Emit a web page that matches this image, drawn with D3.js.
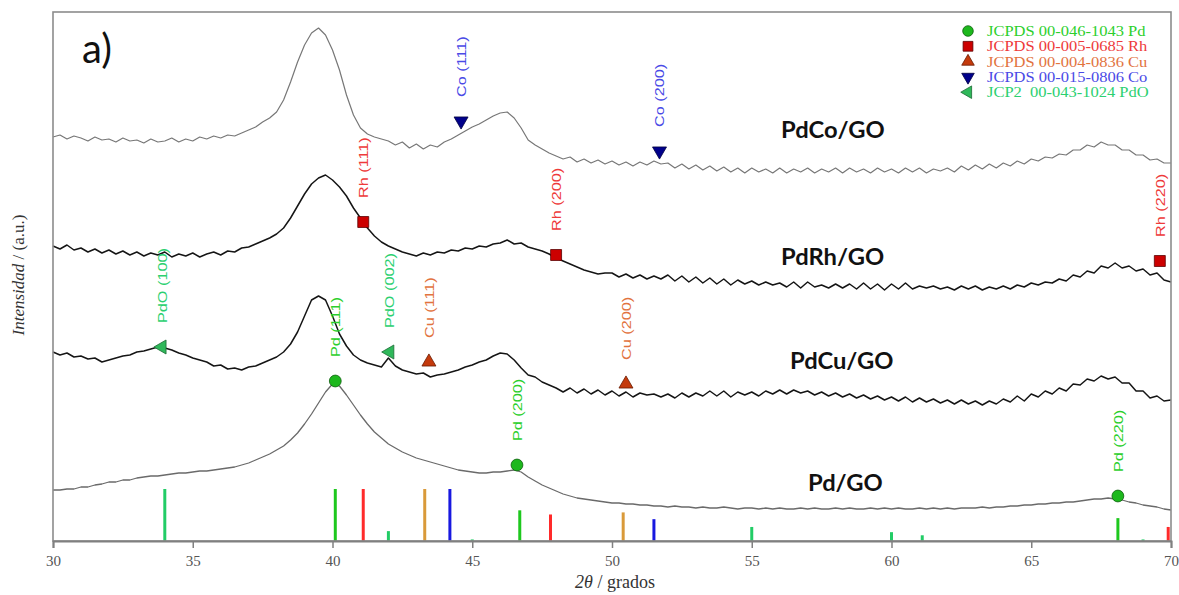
<!DOCTYPE html>
<html>
<head>
<meta charset="utf-8">
<script src="https://cdn.jsdelivr.net/npm/d3@7"></script>
<style>
    body { margin: 0; background: #ffffff; }
    svg { display: block; }
</style>
</head>
<body>
<svg></svg>
<script>
// Scan range (2 theta, degrees), sampled every 0.25
let thetaStart = 30, thetaEnd = 70, thetaStep = 0.25;
let xTicks = [30, 35, 40, 45, 50, 55, 60, 65, 70];

// Stacked patterns (a.u., offsets already included)
let pdCoValues = [
    404, 406, 402, 405, 403, 400, 404, 401,
    402, 399, 403, 400, 401, 398, 402, 399,
    400, 403, 399, 402, 400, 404, 402, 405,
    403, 406, 405, 408, 411, 414, 419, 423,
    429, 441, 459, 479, 496, 508, 513, 506,
    491, 471, 446, 426, 413, 407, 404, 402,
    400, 396, 399, 393, 397, 392, 396, 394,
    399, 402, 406, 410, 414, 417, 421, 425,
    428, 429, 423, 413, 401, 396, 392, 388,
    385, 382, 384, 379, 382, 378, 381, 377,
    380, 376, 379, 375, 379, 376, 380, 377,
    378, 373, 377, 372, 376, 371, 375, 370,
    374, 369, 373, 368, 373, 369, 372, 368,
    373, 368, 372, 369, 373, 368, 372, 369,
    373, 368, 373, 369, 372, 368, 373, 369,
    372, 368, 373, 369, 373, 368, 372, 370,
    373, 369, 375, 371, 376, 372, 377, 373,
    378, 375, 380, 377, 382, 380, 384, 383,
    387, 386, 391, 391, 396, 394, 399, 396,
    396, 391, 391, 386, 386, 381, 382, 378,
    378
];
let pdRhValues = [
    295, 292, 296, 291, 293, 289, 292, 288,
    291, 287, 290, 286, 289, 285, 288, 286,
    289, 284, 287, 285, 288, 284, 287, 289,
    286, 290, 289, 293, 294, 297, 300, 303,
    307, 313, 323, 335, 347, 357, 363, 366,
    361, 354, 345, 333, 323, 313, 305, 299,
    295, 292, 289, 287, 285, 288, 286, 289,
    288, 291, 290, 293, 292, 295, 294, 297,
    298, 301, 297, 298, 294, 292, 290, 287,
    283, 280, 277, 274, 271, 269, 267, 268,
    268, 264, 267, 263, 266, 262, 265, 262,
    266, 260, 265, 259, 264, 258, 263, 257,
    262, 256, 261, 257, 260, 256, 259, 256,
    258, 254, 259, 253, 259, 254, 256, 253,
    257, 253, 257, 252, 258, 252, 257, 251,
    257, 252, 258, 252, 255, 253, 255, 252,
    254, 251, 255, 252, 255, 251, 254, 252,
    255, 252, 256, 254, 258, 256, 259, 258,
    262, 260, 266, 264, 270, 268, 275, 273,
    278, 273, 275, 270, 272, 266, 268, 261,
    259
];
let pdCuValues = [
    189, 186, 188, 184, 185, 182, 183, 179,
    181, 183, 185, 186, 189, 190, 192, 194,
    193, 191, 188, 186, 183, 181, 179, 175,
    176, 172, 173, 171, 174, 175, 178, 181,
    184, 189, 197, 209, 225, 241, 245, 241,
    225, 207, 195, 186, 181, 178, 176, 174,
    183, 175, 171, 169, 167, 168, 164, 166,
    167, 169, 171, 174, 176, 179, 181, 185,
    188, 187, 181, 173, 166, 164, 159, 156,
    153, 149, 153, 148, 152, 147, 151, 146,
    150, 145, 149, 144, 148, 146, 147, 144,
    147, 143, 148, 144, 148, 145, 150, 145,
    150, 144, 149, 146, 149, 145, 150, 147,
    151, 147, 151, 148, 150, 146, 149, 145,
    148, 144, 147, 143, 146, 142, 145, 141,
    144, 140, 144, 139, 143, 139, 142, 138,
    141, 137, 141, 137, 140, 136, 140, 137,
    142, 139, 145, 140, 147, 144, 150, 147,
    153, 150, 157, 156, 162, 160, 165, 162,
    164, 158, 158, 150, 150, 143, 145, 140,
    141
];
let pdValues = [
    51, 51, 52, 52, 54, 54, 56, 57,
    59, 59, 61, 61, 63, 64, 65, 65,
    66, 67, 68, 68, 69, 70, 70, 71,
    72, 73, 74, 76, 78, 81, 84, 87,
    91, 95, 101, 108, 117, 127, 138, 149,
    157, 155, 146, 136, 126, 117, 109, 103,
    97, 93, 89, 86, 83, 81, 79, 77,
    75, 73, 71, 70, 69, 68, 68, 69,
    69, 70, 71, 69, 64, 60, 56, 53,
    50, 47, 45, 43, 42, 41, 40, 39,
    38, 38, 37, 37, 36, 36, 35, 35,
    34, 35, 34, 34, 33, 34, 33, 33,
    34, 33, 32, 33, 33, 32, 33, 32,
    33, 32, 32, 33, 32, 33, 32, 32,
    33, 32, 33, 32, 32, 33, 32, 33,
    32, 33, 32, 32, 33, 32, 33, 32,
    33, 32, 33, 33, 33, 34, 33, 34,
    34, 35, 35, 36, 36, 37, 37, 38,
    38, 39, 39, 40, 41, 42, 42, 43,
    42, 41, 39, 38, 36, 35, 34, 32,
    31
];
let seriesNames = ['PdCo/GO', 'PdRh/GO', 'PdCu/GO', 'Pd/GO'];

// Reference card lines (2 theta, relative intensity %)
let pdCardTheta = [40.1, 46.7, 68.1];
let pdCardInt = [100, 59, 44];
let rhCardTheta = [41.1, 47.8, 69.9];
let rhCardInt = [100, 51, 27];
let cuCardTheta = [43.3, 50.4];
let cuCardInt = [100, 55];
let coCardTheta = [44.2, 51.5];
let coCardInt = [100, 42];
let pdoCardTheta = [34.0, 42.0, 45.0, 55.0, 60.0, 61.1, 69.0];
let pdoCardInt = [100, 19, 3, 27, 17, 11, 3];

// Peak assignments: phase, reflection, 2 theta, height (a.u.)
let peakPhase = ['Co', 'Co', 'Rh', 'Rh', 'Rh', 'PdO', 'PdO', 'Cu', 'Cu', 'Pd', 'Pd', 'Pd'];
let peakHkl = ['(111)', '(200)', '(111)', '(200)', '(220)', '(100)', '(002)', '(111)', '(200)', '(111)', '(200)', '(220)'];
let peakTheta = [44.6, 51.7, 41.1, 48.0, 69.6, 33.9, 42.05, 43.45, 50.5, 40.1, 46.6, 68.1];
let peakHeight = [420, 390, 319, 286, 280, 194, 189, 179, 157, 160, 76, 45];

// Legend
let legendPhase = ['Pd', 'Rh', 'Cu', 'Co', 'PdO'];
let legendText = ['JCPDS 00-046-1043 Pd', 'JCPDS 00-005-0685 Rh', 'JCPDS 00-004-0836 Cu', 'JCPDS 00-015-0806 Co', 'JCP2  00-043-1024 PdO'];

// Styles per phase
let phaseStyle = {
    Pd:  { symbol: d3.symbolCircle,   rot: 0,   size: 110, fill: '#1db81d', stroke: '#0d600d', text: '#2ccf2c', stick: '#1ec81e' },
    Rh:  { symbol: d3.symbolSquare,   rot: 0,   size: 120, fill: '#cc0000', stroke: '#5a0000', text: '#ee3a3a', stick: '#ff2a2a' },
    Cu:  { symbol: d3.symbolTriangle, rot: 0,   size: 85,  fill: '#c43a0c', stroke: '#6a1a00', text: '#e2733e', stick: '#d99a3a' },
    Co:  { symbol: d3.symbolTriangle, rot: 180, size: 85,  fill: '#00008b', stroke: '#000040', text: '#4a4ae6', stick: '#1818e0' },
    PdO: { symbol: d3.symbolTriangle, rot: -90, size: 85,  fill: '#2fb85a', stroke: '#1a6a34', text: '#2bd070', stick: '#22cc66' }
};

// SVG Dimensions Variables
let width = 1179, height = 595;
let plotLeft = 53, plotRight = 1171, plotTop = 12, plotBottom = 541;

let svg = d3.select('svg');
let xScale, yScale, stickScale;

function drawSvg() {
    svg.attr('width', width).attr('height', height);
}

function generateScales() {
    xScale = d3.scaleLinear().domain([thetaStart, thetaEnd]).range([plotLeft, plotRight]);
    yScale = d3.scaleLinear().domain([0, plotBottom - plotTop]).range([plotBottom, plotTop]);
    stickScale = d3.scaleLinear().domain([0, 100]).range([plotBottom, 489]);
}

function drawFrame() {
    svg.append('rect')
        .attr('x', plotLeft).attr('y', plotTop)
        .attr('width', plotRight - plotLeft).attr('height', plotBottom - plotTop)
        .attr('fill', 'none')
        .attr('stroke', '#8c8c8c')
        .attr('stroke-width', 1.6);
}

function drawSticks() {
    let cards = [
        ['PdO', pdoCardTheta, pdoCardInt],
        ['Pd', pdCardTheta, pdCardInt],
        ['Rh', rhCardTheta, rhCardInt],
        ['Cu', cuCardTheta, cuCardInt],
        ['Co', coCardTheta, coCardInt]
    ];
    cards.forEach((c) => {
        svg.append('g')
            .selectAll('line')
            .data(c[1])
            .enter()
            .append('line')
            .attr('x1', (d) => xScale(d))
            .attr('x2', (d) => xScale(d))
            .attr('y1', stickScale(0))
            .attr('y2', (d, i) => stickScale(c[2][i]))
            .attr('stroke', phaseStyle[c[0]].stick)
            .attr('stroke-width', 3);
    });
}

function drawPatterns() {
    let thetas = d3.range(thetaStart, thetaEnd + thetaStep / 2, thetaStep);
    let patterns = [
        [pdCoValues, '#777777', 1.2],
        [pdRhValues, '#151515', 1.5],
        [pdCuValues, '#151515', 1.5],
        [pdValues, '#6a6a6a', 1.3]
    ];
    let line = d3.line()
        .x((d, i) => xScale(thetas[i]))
        .y((d) => yScale(d));
    patterns.forEach((p) => {
        svg.append('path')
            .datum(p[0])
            .attr('d', line)
            .attr('fill', 'none')
            .attr('stroke', p[1])
            .attr('stroke-width', p[2])
            .attr('stroke-linejoin', 'round');
    });
}

function symbolPath(phase, scale) {
    let s = phaseStyle[phase];
    return d3.symbol().type(s.symbol).size(s.size * (scale || 1))();
}

function drawPeaks() {
    let g = svg.append('g');
    peakTheta.forEach((t, i) => {
        let s = phaseStyle[peakPhase[i]];
        let px = xScale(t), py = yScale(peakHeight[i]);
        g.append('path')
            .attr('d', symbolPath(peakPhase[i]))
            .attr('transform', `translate(${px},${py}) rotate(${s.rot})`)
            .attr('fill', s.fill)
            .attr('stroke', s.stroke)
            .attr('stroke-width', 0.8);
        g.append('text')
            .attr('transform', `translate(${px},${py - 24}) rotate(-90) scale(1.25,1)`)
            .attr('dy', '0.36em')
            .attr('font-family', 'Liberation Sans, Arial, sans-serif')
            .attr('font-size', 13)
            .attr('fill', s.text)
            .text(peakPhase[i] + ' ' + peakHkl[i]);
    });
}

function drawLegend() {
    let g = svg.append('g').attr('id', 'legend');
    legendPhase.forEach((p, i) => {
        let s = phaseStyle[p];
        let y = 31 + i * 15.3;
        g.append('path')
            .attr('d', symbolPath(p, 0.8))
            .attr('transform', `translate(968,${y}) rotate(${s.rot})`)
            .attr('fill', s.fill)
            .attr('stroke', s.stroke)
            .attr('stroke-width', 0.8);
        g.append('text')
            .attr('transform', `translate(987,${y + 5}) scale(1.1,1)`)
            .attr('font-family', 'Liberation Serif, Times New Roman, serif')
            .attr('font-size', 15)
            .attr('fill', s.text)
            .style('white-space', 'pre')
            .text(legendText[i]);
    });
}

function drawAxes() {
    let xAxis = d3.axisBottom(xScale)
        .tickValues(xTicks)
        .tickFormat(d3.format('d'))
        .tickSize(7)
        .tickPadding(7);
    let ax = svg.append('g')
        .attr('transform', `translate(0, ${plotBottom})`)
        .call(xAxis);
    ax.select('.domain').attr('stroke', '#808080').attr('stroke-width', 2);
    ax.selectAll('.tick line').attr('stroke', '#808080').attr('stroke-width', 1.5);
    ax.selectAll('.tick text')
        .attr('font-family', 'Liberation Serif, Times New Roman, serif')
        .attr('font-size', 15)
        .attr('fill', '#555555');

    // x title
    let xt = svg.append('text')
        .attr('x', 615).attr('y', 588)
        .attr('text-anchor', 'middle')
        .attr('font-family', 'Liberation Serif, Times New Roman, serif')
        .attr('font-size', 18)
        .attr('fill', '#333333');
    xt.append('tspan').attr('font-style', 'italic').text('2\u03b8');
    xt.append('tspan').text(' / grados');

    // y title
    let yt = svg.append('text')
        .attr('transform', 'translate(24,275) rotate(-90)')
        .attr('text-anchor', 'middle')
        .attr('font-family', 'Liberation Serif, Times New Roman, serif')
        .attr('font-size', 17)
        .attr('fill', '#333333');
    yt.append('tspan').attr('font-style', 'italic').text('Intensidad');
    yt.append('tspan').text(' / (a.u.)');
}

function drawLabels() {
    let nameX = [781, 781, 790, 808];
    let nameY = [130, 257, 361, 483];
    seriesNames.forEach((n, i) => {
        svg.append('text')
            .attr('transform', `translate(${nameX[i]},${nameY[i]}) scale(1.08,1)`)
            .attr('dy', '0.35em')
            .attr('font-family', 'Lato, Open Sans, sans-serif')
            .attr('font-weight', 'bold')
            .attr('font-size', 22)
            .attr('fill', '#111111')
            .text(n);
    });

    svg.append('text')
        .attr('x', 82).attr('y', 63)
        .attr('font-family', 'Lato, Open Sans, sans-serif')
        .attr('font-size', 40)
        .attr('fill', '#111111')
        .text('a)');
}

drawSvg();
generateScales();
drawSticks();
drawPatterns();
drawPeaks();
drawFrame();
drawLegend();
drawAxes();
drawLabels();
</script>
</body>
</html>
